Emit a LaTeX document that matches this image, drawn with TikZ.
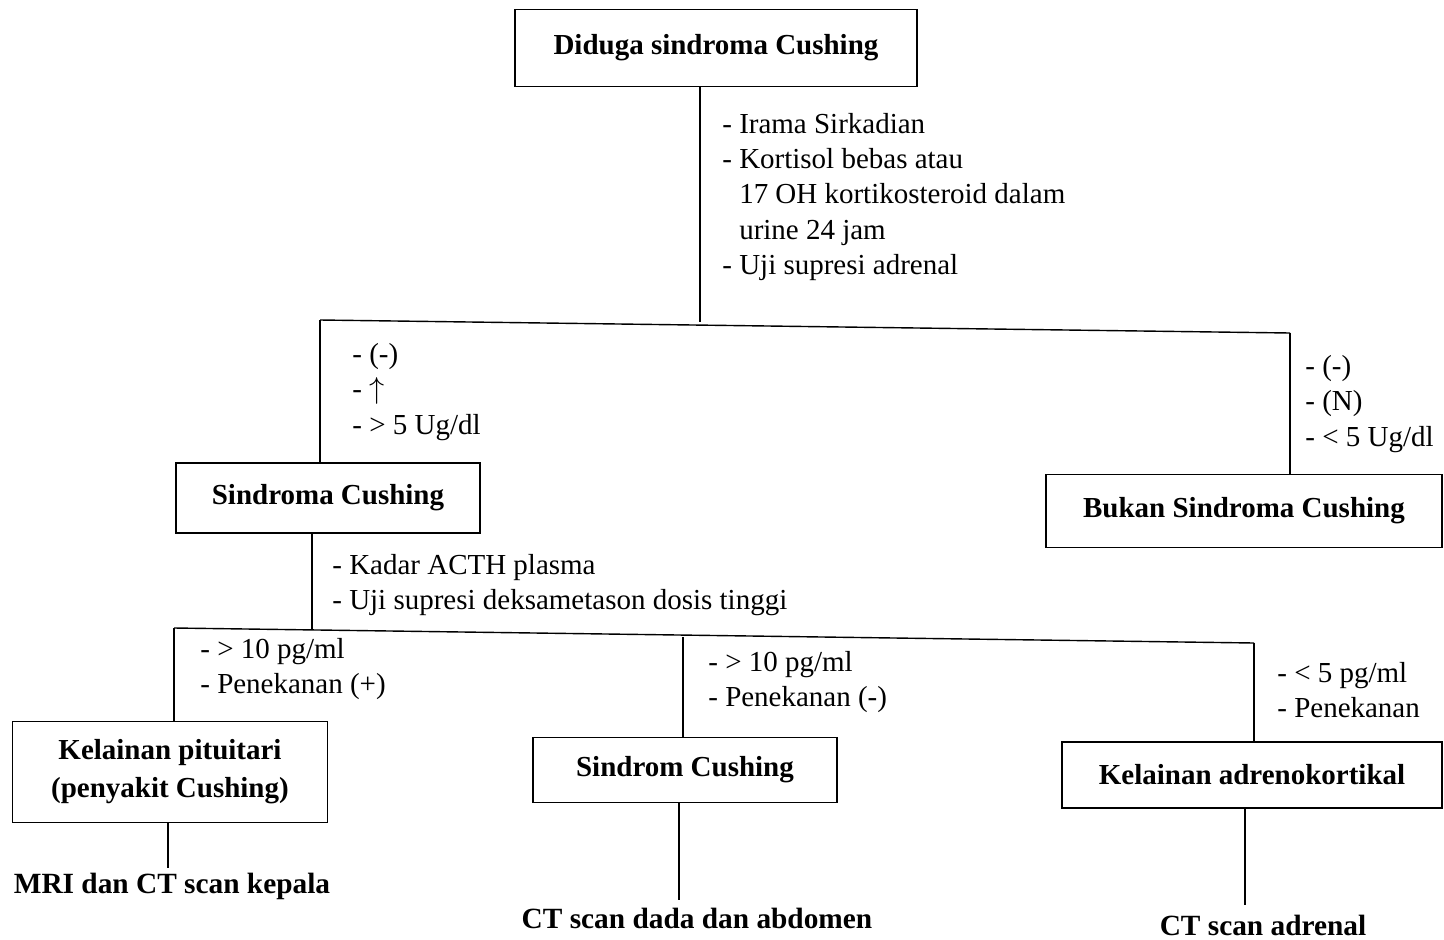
\documentclass[tikz,border=0pt]{standalone}
\usepackage{fontspec}
\setmainfont{Liberation Serif}
\usepackage{amssymb}
\usetikzlibrary{calc}

\tikzset{
	box/.style={draw, line width=0.8pt, inner sep=0pt, align=center, font=\fontsize{16.5}{21.5}\selectfont\bfseries},
	note/.style={anchor=west, inner sep=0pt, align=left, font=\fontsize{16.5}{20}\selectfont},
	result/.style={inner sep=0pt, font=\fontsize{16.7}{20}\selectfont\bfseries},
	link/.style={line width=0.8pt}
}

\begin{document}
\begin{tikzpicture}[x=0.02cm, y=-0.02cm]
			\useasboundingbox (0, 0) rectangle (1444, 940);
			
			% boxes
			\node[box, minimum width=402*0.02cm, minimum height=77*0.02cm] (top) at (716, 48) {Diduga sindroma Cushing};
			\node[box, minimum width=304*0.02cm, minimum height=70*0.02cm] (sc) at (328, 498) {Sindroma Cushing};
			\node[box, minimum width=396*0.02cm, minimum height=73*0.02cm] (bukan) at (1244, 511) {Bukan Sindroma Cushing};
			\node[box, minimum width=315*0.02cm, minimum height=101*0.02cm] (pit) at (170, 772) {Kelainan pituitari\\(penyakit Cushing)};
			\node[box, minimum width=304*0.02cm, minimum height=65*0.02cm] (scm) at (685, 770) {Sindrom Cushing};
			\node[box, minimum width=380*0.02cm, minimum height=66*0.02cm] (adr) at (1252, 775) {Kelainan adrenokortikal};
			
			% branch points
			\coordinate (j0) at (700, 322);
			\coordinate (jl) at (320, 320);
			\coordinate (jr) at (1290, 333);
			\coordinate (k0) at (312, 629);
			\coordinate (kl) at (174, 628);
			\coordinate (km) at (683, 637);
			\coordinate (kr) at (1254, 643);
			
			\draw[link] (j0 |- top.south) -- (j0);
			\draw[link] (jl) -- (jr);
			\draw[link] (jl) -- (jl |- sc.north);
			\draw[link] (jr) -- (jr |- bukan.north);
			\draw[link] (k0 |- sc.south) -- (k0);
			\draw[link] (kl) -- (kr);
			\draw[link] (kl) -- (kl |- pit.north);
			\draw[link] (km) -- (km |- scm.north);
			\draw[link] (kr) -- (kr |- adr.north);
			
			% notes on the branches
			\node[note] (n0) at (722, 197) {- Irama Sirkadian\\- Kortisol bebas atau\\\hphantom{- }17 OH kortikosteroid dalam\\\hphantom{- }urine 24 jam\\- Uji supresi adrenal};
			\node[note] (nl) at (352, 392) {- (-)\\- $\uparrow$\\- > 5 Ug/dl};
			\node[note] (nr) at (1305, 404) {- (-)\\- (N)\\- < 5 Ug/dl};
			\node[note] (n1) at (332, 585) {- Kadar ACTH plasma\\- Uji supresi deksametason dosis tinggi};
			\node[note] (n2) at (200, 669) {- > 10 pg/ml\\- Penekanan (+)};
			\node[note] (n3) at (708, 682) {- > 10 pg/ml\\- Penekanan (-)};
			\node[note] (n4) at (1277, 690) {- < 5 pg/ml\\- Penekanan};
			
			% imaging
			\node[result] (mri) at (172, 886) {MRI dan CT scan kepala};
			\node[result] (ctd) at (697, 918) {CT scan dada dan abdomen};
			\node[result] (cta) at (1263, 925) {CT scan adrenal};
			
			\draw[link] (pit.south -| 168, 0) -- (168, 868);
			\draw[link] (scm.south -| 679, 0) -- (679, 900);
			\draw[link] (adr.south -| 1245, 0) -- (1245, 905);
			
		\end{tikzpicture}
\end{document}
